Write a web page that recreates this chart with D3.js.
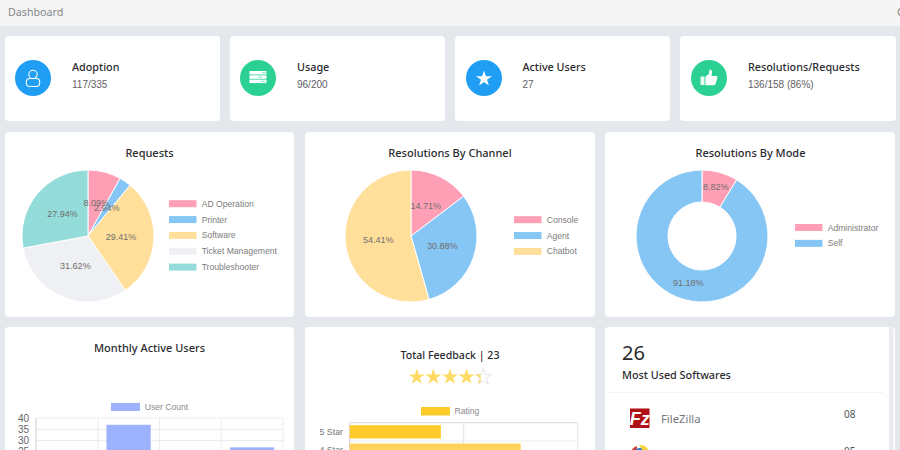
<!DOCTYPE html>
<html>
<head>
<meta charset="utf-8">
<title>Dashboard</title>
<script src="https://d3js.org/d3.v7.min.js"></script>
<style>
  html, body { margin: 0; padding: 0; overflow: hidden; background: #e4e7ec; }
  svg { display: block; }
  .head { font-family: "Noto Sans", sans-serif; font-weight: 500; fill: #2b2b2f; }
  .small { font-family: "Liberation Sans", Arial, sans-serif; }
</style>
</head>
<body>
<svg id="chart" width="900" height="450"></svg>
<script>
// stat tiles
const stat_titles = ["Adoption", "Usage", "Active Users", "Resolutions/Requests"];
const stat_values = ["117/335", "96/200", "27", "136/158 (86%)"];

// pies
const requests_labels = ["AD Operation", "Printer", "Software", "Ticket Management", "Troubleshooter"];
const requests_values = [8.09, 2.94, 29.41, 31.62, 27.94];
const channel_labels = ["Console", "Agent", "Chatbot"];
const channel_values = [14.71, 30.88, 54.41];
const mode_labels = ["Administrator", "Self"];
const mode_values = [8.82, 91.18];

// monthly bars, the 1st and 3rd bars are below the fold so these are guesses
const month_labels = ["Month 1", "Month 2", "Month 3", "Month 4"];
const month_values = [14, 37, 20, 27];
const month_ticks = [0, 5, 10, 15, 20, 25, 30, 35, 40];

// feedback bars
const rating_labels = ["5 Star", "4 Star", "3 Star", "2 Star", "1 Star"];
const rating_values = [8, 15, 0, 0, 0];
const rating_ticks = [0, 10, 20];
const rating_average = 4.35;

// software list
const software_total = "26";
const software_names = ["FileZilla"];
const software_counts = ["08", "05"];

const pie_colors = ["#ff9fb5", "#86c6f4", "#ffdf9a", "#eff0f3", "#94dcda"];
const tile_colors = ["#1f9ef3", "#2bd093", "#1f9ef3", "#2bd093"];
const rating_colors = ["#ffcb2b", "#ffd259", "#ffd259", "#ffd259", "#ffd259"];

const svg = d3.select("#chart");

// draws a white rounded card
function draw_card(x, y, w, h) {
    svg.append("rect")
        .attr("x", x).attr("y", y)
        .attr("width", w).attr("height", h)
        .attr("rx", 4)
        .attr("fill", "#fff");
}

function draw_title(text, x, y, size = 11) {
    return svg.append("text")
        .attr("class", "head")
        .attr("x", x).attr("y", y)
        .attr("text-anchor", "middle")
        .attr("font-size", size)
        .text(text);
}

// top bar
svg.append("rect").attr("width", 900).attr("height", 26).attr("fill", "#f5f5f5");
svg.append("text")
    .attr("x", 8).attr("y", 15.5)
    .attr("font-family", "'Noto Sans', sans-serif")
    .attr("font-size", 10.7)
    .attr("fill", "#85868a")
    .text("Dashboard");
svg.append("text")
    .attr("x", 897).attr("y", 15.5)
    .attr("font-family", "'Noto Sans', sans-serif")
    .attr("font-size", 11)
    .attr("fill", "#85868a")
    .text("C");

// tiles
const tile_x = [5, 230, 455, 680];
const icon_x = [33, 258, 484, 709];
const label_x = [72, 297, 522.5, 748];
const tile_icons = [draw_user_icon, draw_server_icon, draw_star_icon, draw_thumb_icon];

stat_titles.forEach((title, i) => {
    draw_card(tile_x[i], 36, i == 3 ? 216 : 215, 85);
    svg.append("circle")
        .attr("cx", icon_x[i]).attr("cy", 78).attr("r", 18)
        .attr("fill", tile_colors[i]);
    tile_icons[i](svg.append("g").attr("transform", `translate(${icon_x[i]},78)`));
    svg.append("text")
        .attr("class", "head")
        .attr("x", label_x[i]).attr("y", 71)
        .attr("font-size", 10.8)
        .text(title);
    svg.append("text")
        .attr("class", "small")
        .attr("x", label_x[i]).attr("y", 88)
        .attr("font-size", 10)
        .attr("fill", "#5f6064")
        .text(stat_values[i]);
});

function draw_user_icon(g) {
    g.append("circle").attr("cy", -3.5).attr("r", 4.2)
        .attr("fill", "none").attr("stroke", "#fff").attr("stroke-width", 1.1);
    g.append("rect").attr("x", -6.7).attr("y", 0.5).attr("width", 13.4).attr("height", 8).attr("rx", 3.5)
        .attr("fill", "none").attr("stroke", "#fff").attr("stroke-width", 1.1);
}

function draw_server_icon(g) {
    [-7, -2.7, 1.6].forEach(y => {
        g.append("rect").attr("x", -8.5).attr("y", y).attr("width", 17).attr("height", 3.5)
            .attr("fill", "#fff");
    });
    [[-5.8, 4], [-1.5, 0], [2.8, 3]].forEach(d => {
        g.append("rect").attr("x", d[1]).attr("y", d[0]).attr("width", 4).attr("height", 1)
            .attr("fill", "#7fe3bd");
    });
}

function draw_star_icon(g) {
    g.append("path")
        .attr("d", d3.symbol().type(d3.symbolStar).size(78)())
        .attr("transform", "translate(0,0.8)")
        .attr("fill", "#fff");
}

function draw_thumb_icon(g) {
    g.append("rect").attr("x", -8.5).attr("y", -1.5).attr("width", 4).attr("height", 8.5).attr("fill", "#e8faf3");
    g.append("path")
        .attr("d", "M-3.5,-1.5 L0,-4 L0.5,-8.5 Q3,-8.8 3,-5.5 L2.5,-2 L8,-2 Q9,-1 8,1 L6.5,6 Q6,7.2 4.5,7.2 L-3.5,7.2 Z")
        .attr("fill", "#fff");
}

// pie cards
function draw_pie(title, title_x, labels, values, cx, legend_x, legend_y, inner) {
    draw_title(title, title_x, 157);

    const cy = 236;
    const outer = 66;
    const pie = d3.pie().sort(null)(values);
    const arc = d3.arc().innerRadius(inner).outerRadius(outer);
    const g = svg.append("g").attr("transform", `translate(${cx},${cy})`);

    g.selectAll("path")
        .data(pie)
        .join("path")
        .attr("d", arc)
        .attr("fill", (d, i) => pie_colors[i])
        .attr("stroke", "#fff")
        .attr("stroke-width", 1);

    g.selectAll("text")
        .data(pie)
        .join("text")
        .attr("class", "small")
        .attr("transform", d => `translate(${arc.centroid(d)})`)
        .attr("text-anchor", "middle")
        .attr("dy", "0.25em")
        .attr("font-size", 9)
        .attr("fill", "#6f6f6f")
        .text(d => d.value.toFixed(2) + "%");

    const legend = svg.append("g");
    legend.selectAll("rect")
        .data(labels)
        .join("rect")
        .attr("x", legend_x)
        .attr("y", (d, i) => legend_y + i * 15.85 - 3.5)
        .attr("width", 27.5).attr("height", 7)
        .attr("fill", (d, i) => pie_colors[i]);
    legend.selectAll("text")
        .data(labels)
        .join("text")
        .attr("class", "small")
        .attr("x", legend_x + 32.7)
        .attr("y", (d, i) => legend_y + i * 15.85)
        .attr("dy", "0.35em")
        .attr("font-size", 8.6)
        .attr("fill", "#7d7d7d")
        .text(d => d);
}

draw_card(5, 132, 289, 185);
draw_card(305, 132, 290, 185);
draw_card(605, 132, 290, 185);
draw_pie("Requests", 149.5, requests_labels, requests_values, 88, 169, 203.7, 0);
draw_pie("Resolutions By Channel", 450, channel_labels, channel_values, 411, 514, 219.7, 0);
draw_pie("Resolutions By Mode", 750.5, mode_labels, mode_values, 702, 795, 227.5, 34);

// bottom cards run past the window
draw_card(5, 327, 289, 140);
draw_card(305, 327, 290, 140);
draw_card(605, 327, 290, 140);

// monthly active users
draw_title("Monthly Active Users", 149.5, 352);

const month_x = d3.scaleBand().domain(month_labels).range([36, 283]);
const month_y = d3.scaleLinear().domain([0, 40]).range([508.4, 418]);

svg.append("g").selectAll("line")
    .data(month_ticks)
    .join("line")
    .attr("x1", 36).attr("x2", 283)
    .attr("y1", d => month_y(d)).attr("y2", d => month_y(d))
    .attr("stroke", "#ececee");
svg.append("g").selectAll("line")
    .data(month_labels)
    .join("line")
    .attr("x1", d => month_x(d) + month_x.bandwidth()).attr("x2", d => month_x(d) + month_x.bandwidth())
    .attr("y1", 418).attr("y2", 508.4)
    .attr("stroke", "#ececee");
svg.append("line")
    .attr("x1", 36).attr("x2", 36).attr("y1", 418).attr("y2", 508.4)
    .attr("stroke", "#cfcfd2");
svg.append("g").selectAll("rect")
    .data(month_values)
    .join("rect")
    .attr("x", (d, i) => month_x(month_labels[i]) + 8.7)
    .attr("y", d => month_y(d))
    .attr("width", month_x.bandwidth() - 17.5)
    .attr("height", d => month_y(0) - month_y(d))
    .attr("fill", "#9db2fd");
svg.append("g").selectAll("text")
    .data(month_ticks)
    .join("text")
    .attr("class", "small")
    .attr("x", 29)
    .attr("y", d => month_y(d))
    .attr("dy", "0.35em")
    .attr("text-anchor", "end")
    .attr("font-size", 10)
    .attr("fill", "#666")
    .text(d => d);

svg.append("rect").attr("x", 111).attr("y", 403).attr("width", 29).attr("height", 8).attr("fill", "#9db2fd");
svg.append("text")
    .attr("class", "small")
    .attr("x", 144.7).attr("y", 407)
    .attr("dy", "0.35em")
    .attr("font-size", 8.6)
    .attr("fill", "#8a8a8a")
    .text("User Count");

// total feedback
draw_title("Total Feedback | 23", 450, 359, 10.6);

const star_x = d3.scaleBand().domain([1, 2, 3, 4, 5]).range([408.5, 491.5]);
const star_path = d3.symbol().type(d3.symbolStar).size(80)();
const defs = svg.append("defs");
defs.append("clipPath").attr("id", "partial_star")
    .append("rect")
    .attr("x", -8.5).attr("y", -10)
    .attr("width", 17 * (rating_average % 1)).attr("height", 20);

d3.range(1, 6).forEach(n => {
    const g = svg.append("g").attr("transform", `translate(${star_x(n) + star_x.bandwidth() / 2},377)`);
    if (n > rating_average) {
        g.append("path").attr("d", star_path)
            .attr("fill", "#fff").attr("stroke", "#dcdcdc").attr("stroke-width", 0.8);
        g.append("path").attr("d", star_path)
            .attr("fill", "#ffdb66").attr("clip-path", "url(#partial_star)");
    } else {
        g.append("path").attr("d", star_path).attr("fill", "#ffdb66");
    }
});

svg.append("rect").attr("x", 421).attr("y", 407).attr("width", 29).attr("height", 8.5).attr("fill", "#ffcb2b");
svg.append("text")
    .attr("class", "small")
    .attr("x", 454.5).attr("y", 411)
    .attr("dy", "0.35em")
    .attr("font-size", 8.6)
    .attr("fill", "#8a8a8a")
    .text("Rating");

const rating_x = d3.scaleLinear().domain([0, 20]).range([349.7, 577.7]);
const rating_y = d3.scaleBand().domain(rating_labels).range([422.7, 514.2]);

svg.append("g").selectAll("line")
    .data(rating_labels)
    .join("line")
    .attr("x1", 349.7).attr("x2", 577.7)
    .attr("y1", d => rating_y(d)).attr("y2", d => rating_y(d))
    .attr("stroke", d => d == "5 Star" ? "#d9d9db" : "#ececee");
svg.append("g").selectAll("line")
    .data(rating_ticks)
    .join("line")
    .attr("x1", d => rating_x(d)).attr("x2", d => rating_x(d))
    .attr("y1", 422.7).attr("y2", 514.2)
    .attr("stroke", d => d == 0 ? "#cfcfd2" : "#e6e6e8");
svg.append("g").selectAll("rect")
    .data(rating_values)
    .join("rect")
    .attr("x", rating_x(0))
    .attr("y", (d, i) => rating_y(rating_labels[i]) + 2.5)
    .attr("width", d => rating_x(d) - rating_x(0))
    .attr("height", rating_y.bandwidth() - 5)
    .attr("fill", (d, i) => rating_colors[i]);
svg.append("g").selectAll("text")
    .data(rating_labels)
    .join("text")
    .attr("class", "small")
    .attr("x", 343)
    .attr("y", d => rating_y(d) + rating_y.bandwidth() / 2)
    .attr("dy", "0.35em")
    .attr("text-anchor", "end")
    .attr("font-size", 8.8)
    .attr("fill", "#777")
    .text(d => d);

// most used softwares
svg.append("rect").attr("x", 889).attr("y", 327).attr("width", 4.5).attr("height", 123).attr("fill", "#e9ebee");
svg.append("text")
    .attr("x", 622).attr("y", 360)
    .attr("font-family", "'Noto Sans', sans-serif")
    .attr("font-size", 20)
    .attr("fill", "#2b2b2f")
    .text(software_total);
svg.append("text")
    .attr("class", "head")
    .attr("x", 622).attr("y", 379)
    .attr("font-size", 10.8)
    .text("Most Used Softwares");
svg.append("line")
    .attr("x1", 610).attr("x2", 883).attr("y1", 392.5).attr("y2", 392.5)
    .attr("stroke", "#f3f3f4");

const list_y = [419, 456];
software_names.forEach((name, i) => {
    svg.append("text")
        .attr("x", 661).attr("y", list_y[i] + 4)
        .attr("font-family", "'Noto Sans', sans-serif")
        .attr("font-size", 11.3)
        .attr("fill", "#77787c")
        .text(name);
});
software_counts.forEach((count, i) => {
    svg.append("text")
        .attr("x", 844).attr("y", list_y[i] - 1)
        .attr("font-family", "'Noto Sans', sans-serif")
        .attr("font-size", 10)
        .attr("fill", "#55565a")
        .text(count);
});

// filezilla logo
const fz = svg.append("g").attr("transform", "translate(630,408.5)");
fz.append("rect").attr("width", 19.5).attr("height", 19.5).attr("fill", "#b01116");
fz.append("text")
    .attr("x", 9.7).attr("y", 16)
    .attr("text-anchor", "middle")
    .attr("font-family", "'Liberation Sans', sans-serif")
    .attr("font-weight", 700)
    .attr("font-style", "italic")
    .attr("font-size", 18)
    .attr("fill", "#fff")
    .text("Fz");

// second logo, only the top peeks in
const logo = svg.append("g").attr("transform", "translate(640,455)");
logo.append("path").attr("d", "M-9.5,-3 A10,10 0 0 1 -3,-9 L-3,-3 Z").attr("fill", "#df3b2f");
logo.append("path").attr("d", "M-6,5 L-6,-5 Q0,-8 3,-7 L4,5 Z").attr("fill", "#2f7fd6");
logo.append("path").attr("d", "M-1,-10 A10,10 0 0 1 9,-4 L3,-4 Z").attr("fill", "#f6d33c");
</script>
</body>
</html>
